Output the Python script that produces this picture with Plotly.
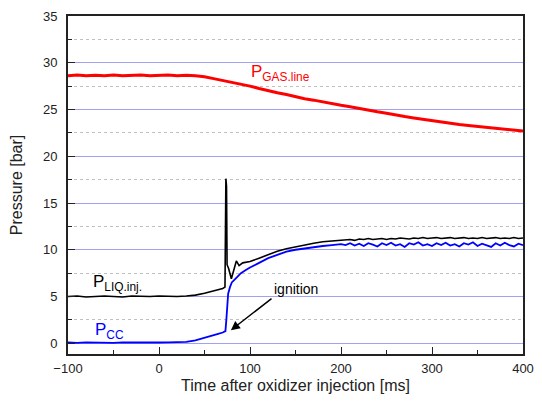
import plotly.graph_objects as go

# gas line pressure [bar]
t_gas = list(range(-100, 401, 10))
p_gas = [28.6, 28.7, 28.6, 28.65, 28.6, 28.7, 28.6, 28.65, 28.7, 28.6, 28.65, 28.7, 28.6, 28.65, 28.6,
         28.5, 28.3, 28.1, 27.95, 27.75, 27.5, 27.25, 27.0, 26.8, 26.6, 26.35, 26.15, 26.0, 25.8, 25.65,
         25.45, 25.3, 25.1, 24.95, 24.75, 24.6, 24.4, 24.25, 24.1, 23.95, 23.8, 23.65, 23.5, 23.4, 23.3,
         23.2, 23.1, 23.0, 22.9, 22.8, 22.7]

# liquid injector pressure [bar]
t_liq = [-100, -90, -80, -70, -60, -50, -40, -30, -20, -10, 0, 10, 20, 30, 40, 50, 60, 70,
         72.5, 72.8, 73.5, 74.2, 74.8, 76.5, 79.5, 85, 88, 92, 100, 110, 120, 130, 140, 150,
         160, 170, 180, 190, 200,
         205, 210, 215, 220, 225, 230, 235, 240, 245, 250, 255, 260, 265, 270, 275, 280, 285, 290,
         295, 300, 305, 310, 315, 320, 325, 330, 335, 340, 345, 350, 355, 360, 365, 370, 375, 380,
         385, 390, 395, 400]
p_liq = [5.0, 5.05, 4.95, 5.0, 5.05, 5.0, 4.95, 5.05, 5.0, 5.0, 5.05, 5.0, 5.0, 5.05, 5.15, 5.35, 5.6, 5.85,
         6.0, 17.3, 17.6, 16.8, 8.4, 8.0, 6.9, 8.8, 8.3, 8.6, 8.75, 9.1, 9.45, 9.85, 10.1, 10.3,
         10.55, 10.7, 10.85, 10.95, 11.0,
         11.05, 11.1, 11.0, 11.15, 11.1, 11.2, 11.1, 11.15, 11.2, 11.1, 11.2, 11.15, 11.25, 11.2, 11.15,
         11.25, 11.2, 11.3, 11.2, 11.25, 11.3, 11.2, 11.25, 11.3, 11.2, 11.25, 11.3, 11.2, 11.25, 11.2,
         11.3, 11.2, 11.25, 11.3, 11.2, 11.25, 11.2, 11.3, 11.2, 11.25]

# combustion chamber pressure [bar]
t_cc = [-100, -90, -80, -70, -60, -50, -40, -30, -20, -10, 0, 10, 20, 30, 40, 50, 60, 65, 70,
        73, 74, 75, 76, 78, 80, 85, 90, 95, 100, 110, 120, 130, 140, 150, 160, 170, 180, 190, 200,
        205, 210, 215, 220, 225, 230, 235, 240, 245, 250, 255, 260, 265, 270, 275, 280, 285, 290,
        295, 300, 305, 310, 315, 320, 325, 330, 335, 340, 345, 350, 355, 360, 365, 370, 375, 380,
        385, 390, 395, 400]
p_cc = [0.1, 0.05, 0.1, 0.08, 0.12, 0.05, 0.1, 0.08, 0.1, 0.05, 0.08, 0.1, 0.1, 0.15, 0.3, 0.55, 0.85, 1.0, 1.15,
        1.3, 2.5, 4.8, 5.3, 6.0, 6.5, 7.0, 7.5, 7.8, 8.1, 8.6, 9.1, 9.45, 9.8, 10.0, 10.15, 10.3, 10.4, 10.5, 10.6,
        10.5, 10.7, 10.45, 10.65, 10.4, 10.7, 10.55, 10.35, 10.7, 10.5, 10.75, 10.45, 10.6, 10.3, 10.7,
        10.55, 10.8, 10.45, 10.6, 10.4, 10.7, 10.5, 10.75, 10.45, 10.6, 10.35, 10.7, 10.55, 10.8, 10.4,
        10.65, 10.5, 10.3, 10.7, 10.45, 10.75, 10.5, 10.35, 10.65, 10.5]

fig = go.Figure()
fig.add_scatter(x=t_gas, y=p_gas, mode='lines', line=dict(color='#ff0000', width=3))
fig.add_scatter(x=t_liq, y=p_liq, mode='lines', line=dict(color='#000000', width=1.6))
fig.add_scatter(x=t_cc, y=p_cc, mode='lines', line=dict(color='#0000ff', width=1.8))

lbl = dict(family='Arial, Liberation Sans, sans-serif', size=17)
fig.add_annotation(x=99, y=28.9, text='P<sub>GAS.line</sub>', showarrow=False,
                   xanchor='left', yanchor='middle', font=dict(lbl, color='#ff0000'))
fig.add_annotation(x=-75, y=6.4, text='P<sub>LIQ.inj.</sub>', showarrow=False,
                   xanchor='left', yanchor='middle', font=dict(lbl, color='#000000'))
fig.add_annotation(x=-73, y=1.3, text='P<sub>CC</sub>', showarrow=False,
                   xanchor='left', yanchor='middle', font=dict(lbl, color='#0000ff'))
fig.add_annotation(x=124, y=5.85, text='ignition', showarrow=False,
                   xanchor='left', yanchor='middle', font=dict(lbl, size=14, color='#000000'))
fig.add_annotation(x=79, y=1.4, ax=125.3, ay=4.9, axref='x', ayref='y', text='',
                   showarrow=True, arrowhead=2, arrowsize=1.2, arrowwidth=1.5, arrowcolor='#000000')

axis_font = dict(family='Arial, Liberation Sans, sans-serif', size=13, color='#222222')
fig.update_xaxes(range=[-100, 400], dtick=100, ticks='inside', ticklen=7, tickwidth=1.2,
                 tickcolor='#222222', showgrid=False, zeroline=False, automargin=False,
                 showline=True, linecolor='#222222', linewidth=2, mirror=True,
                 tickfont=axis_font, ticklabelstandoff=1, ticklabeloverflow='allow',
                 minor=dict(dtick=50, ticks='inside', ticklen=4, tickcolor='#222222', showgrid=False),
                 title=dict(text='Time after oxidizer injection [ms]', standoff=11,
                            font=dict(axis_font, size=16)))
fig.update_yaxes(range=[-1.15, 35], dtick=5, ticks='inside', ticklen=7, tickwidth=1.2,
                 tickcolor='#222222', showgrid=True, gridcolor='rgb(160,160,245)', gridwidth=1.2,
                 zeroline=False, showline=True, linecolor='#222222', linewidth=2, mirror=True,
                 tickfont=axis_font, ticklabelstandoff=6, automargin=False, ticklabeloverflow='allow',
                 minor=dict(dtick=2.5, ticks='inside', ticklen=4, tickcolor='#222222', showgrid=True,
                            gridcolor='#c0c0c0', griddash='dot', gridwidth=1),
                 title=dict(text='Pressure [bar]', standoff=16, font=dict(axis_font, size=16)))
# the page body adds an 8px margin, so the figure is kept inside the window
fig.update_layout(width=526, height=386, margin=dict(l=60, r=11, t=8, b=40),
                  plot_bgcolor='white', paper_bgcolor='white', showlegend=False)
fig.write_html("out.html")
